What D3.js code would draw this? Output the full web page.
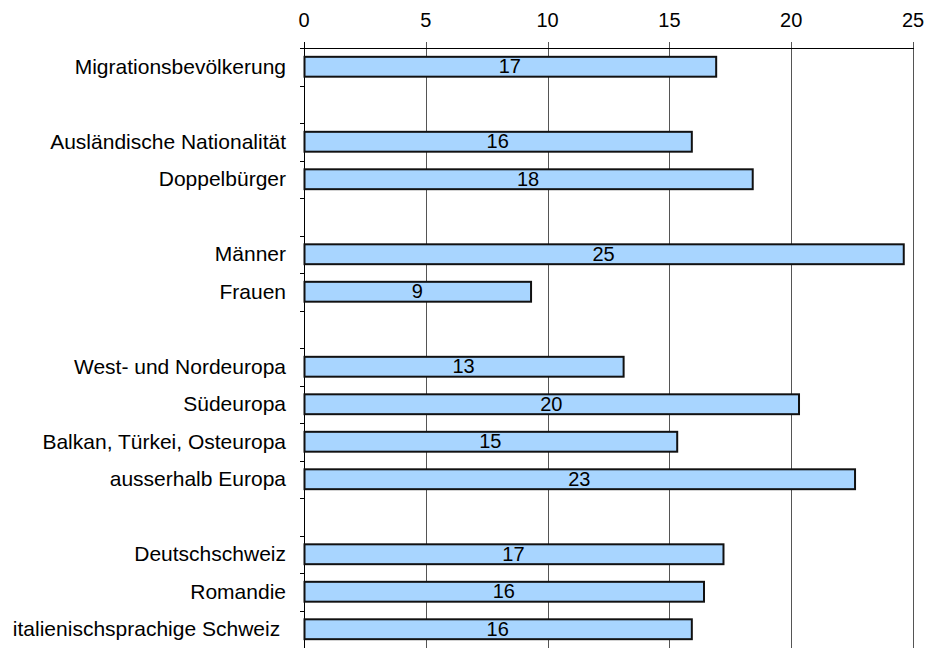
<!DOCTYPE html>
<html>
<head>
<meta charset="utf-8">
<script src="https://cdn.jsdelivr.net/npm/d3@7"></script>
<style>
    body { margin: 0; background: #fff; }
    text { font-family: "Liberation Sans", Arial, sans-serif; fill: #000; }
</style>
</head>
<body>
<div id="chart"></div>
<script>
// rows, blank strings are the empty spacer rows
let categories = [
    "Migrationsbevölkerung",
    "",
    "Ausländische Nationalität",
    "Doppelbürger",
    "",
    "Männer",
    "Frauen",
    "",
    "West- und Nordeuropa",
    "Südeuropa",
    "Balkan, Türkei, Osteuropa",
    "ausserhalb Europa",
    "",
    "Deutschschweiz",
    "Romandie",
    "italienischsprachige Schweiz "
];

let values = [16.9, null, 15.9, 18.4, null, 24.6, 9.3, null, 13.1, 20.3, 15.3, 22.6, null, 17.2, 16.4, 15.9];

let xTicks = [0, 5, 10, 15, 20, 25];

let width = 930, height = 648;
let margin = {"top": 48, "left": 304, "right": 17, "bottom": 0};

let svg = d3.select("#chart").append("svg")
    .attr("width", width)
    .attr("height", height);

let rows = categories.map((c, i) => ({"key": i, "label": c, "value": values[i]}));

let x = d3.scaleLinear()
    .domain([0, 25])
    .range([margin.left, width - margin.right]);

let y = d3.scaleBand()
    .domain(rows.map(d => d.key))
    .range([margin.top, height - margin.bottom])
    .paddingInner(0.47)
    .paddingOuter(0.235);

let rowStep = (height - margin.bottom - margin.top) / rows.length;

// vertical gridlines
svg.append("g")
    .selectAll("line")
    .data(xTicks.slice(1))
    .enter()
    .append("line")
    .attr("x1", d => Math.round(x(d)) + 0.5)
    .attr("x2", d => Math.round(x(d)) + 0.5)
    .attr("y1", margin.top - 6)
    .attr("y2", height)
    .style("stroke", "#555")
    .style("stroke-width", 1);

// top axis line
svg.append("line")
    .attr("x1", x(0))
    .attr("x2", Math.round(x(25)) + 1)
    .attr("y1", margin.top + 0.5)
    .attr("y2", margin.top + 0.5)
    .style("stroke", "#000");

svg.append("g")
    .selectAll("text")
    .data(xTicks)
    .enter()
    .append("text")
    .attr("x", d => x(d))
    .attr("y", 27)
    .attr("text-anchor", "middle")
    .style("font-size", "20px")
    .text(d => d);

// left axis with ticks on row boundaries
svg.append("line")
    .attr("x1", Math.round(x(0)) + 0.5)
    .attr("x2", Math.round(x(0)) + 0.5)
    .attr("y1", margin.top - 6)
    .attr("y2", height)
    .style("stroke", "#000");

svg.append("g")
    .selectAll("line")
    .data(d3.range(rows.length))
    .enter()
    .append("line")
    .attr("x1", x(0) - 4)
    .attr("x2", x(0))
    .attr("y1", d => Math.round(margin.top + d * rowStep) + 0.5)
    .attr("y2", d => Math.round(margin.top + d * rowStep) + 0.5)
    .style("stroke", "#000");

svg.append("g")
    .selectAll("text")
    .data(rows.filter(d => d.label !== ""))
    .enter()
    .append("text")
    .attr("xml:space", "preserve")
    .attr("x", x(0) - 18)
    .attr("y", d => y(d.key) + y.bandwidth() / 2)
    .attr("dy", "0.33em")
    .attr("text-anchor", "end")
    .style("font-size", "21px")
    .style("white-space", "pre")
    .text(d => d.label);

// bars
let bars = rows.filter(d => d.value !== null);

svg.append("g")
    .selectAll("rect")
    .data(bars)
    .enter()
    .append("rect")
    .attr("x", x(0) + 0.5)
    .attr("y", d => y(d.key))
    .attr("width", d => x(d.value) - x(0))
    .attr("height", y.bandwidth())
    .style("fill", "#a8d5ff")
    .style("stroke", "#111")
    .style("stroke-width", 2);

svg.append("g")
    .selectAll("text")
    .data(bars)
    .enter()
    .append("text")
    .attr("x", d => (x(0) + x(d.value)) / 2)
    .attr("y", d => y(d.key) + y.bandwidth() / 2)
    .attr("dy", "0.32em")
    .attr("text-anchor", "middle")
    .style("font-size", "20px")
    .text(d => d3.format(".0f")(d.value));
</script>
</body>
</html>
